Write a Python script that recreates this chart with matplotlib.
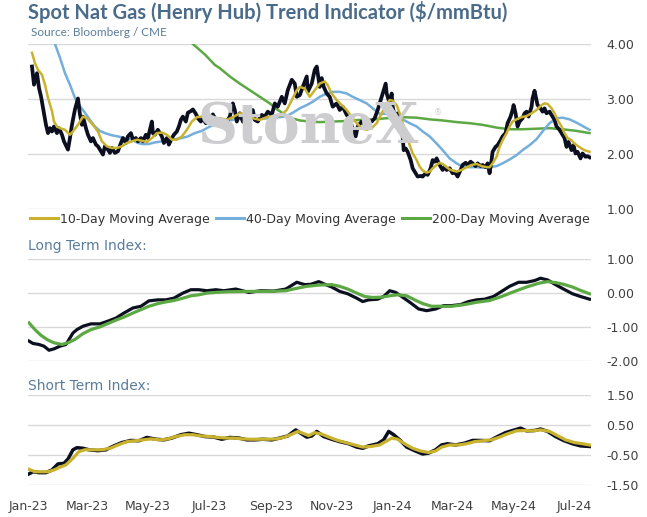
import numpy as np
import matplotlib
matplotlib.use("Agg")
import matplotlib.pyplot as plt
import matplotlib.dates as mdates
from matplotlib.lines import Line2D

# ---------------- data (x = days since 2023-01-01) ----------------
spot_days = [4, 6, 9, 11, 13, 15, 18, 20, 22, 24, 26, 29, 31, 34, 36, 40, 42, 44, 47, 50,
             52, 54, 55, 58, 60, 63, 65, 68, 70, 73, 75, 77, 80, 82, 84, 87, 90, 93, 95, 98,
             100, 103, 105, 108, 110, 113, 115, 118, 120, 122, 124, 125, 127, 130, 132, 134, 136, 139, 141, 144,
             146, 149, 151, 153, 155, 158, 160, 163, 165, 168, 170, 173, 175, 178, 180, 183, 185, 189, 192, 195,
             199, 202, 205, 207, 209, 212, 215, 219, 222, 225, 227, 230, 234, 237, 240, 244, 247, 250, 254, 257,
             260, 264, 267, 269, 272, 275, 279, 280, 284, 287, 289, 290, 292, 294, 296, 299, 302, 305, 309, 312,
             315, 319, 322, 325, 328, 330, 334, 337, 340, 344, 347, 350, 354, 356, 358, 359, 362, 364, 365, 368,
             370, 373, 375, 376, 378, 380, 383, 385, 388, 390, 393, 395, 398, 400, 403, 405, 407, 409, 412, 415,
             417, 419, 422, 425, 427, 430, 433, 435, 438, 440, 443, 445, 448, 450, 453, 455, 458, 460, 462, 464,
             465, 468, 470, 473, 475, 478, 480, 483, 485, 486, 488, 490, 492, 495, 497, 499, 501, 504, 505, 507,
             509, 510, 513, 515, 517, 519, 522, 525, 527, 529, 532, 535, 537, 539, 541, 544, 546, 548, 550, 553,
             555, 558, 560, 562]
spot_vals = [3.59, 3.26, 3.47, 3.20, 3.05, 2.84, 2.53, 2.38, 2.47, 2.41, 2.50, 2.38, 2.47, 2.35, 2.23, 2.08, 2.29, 2.53, 2.81, 3.01,
             2.72, 2.53, 2.68, 2.47, 2.35, 2.23, 2.29, 2.17, 2.14, 2.05, 1.99, 2.14, 2.08, 2.02, 2.11, 2.02, 2.05, 2.20, 2.29, 2.20,
             2.32, 2.38, 2.26, 2.29, 2.23, 2.29, 2.23, 2.35, 2.29, 2.44, 2.59, 2.38, 2.35, 2.44, 2.38, 2.32, 2.20, 2.29, 2.17, 2.29,
             2.35, 2.41, 2.50, 2.62, 2.68, 2.59, 2.75, 2.78, 2.81, 2.73, 2.65, 2.59, 2.65, 2.56, 2.65, 2.59, 2.72, 2.59, 2.53, 2.62,
             2.59, 2.68, 2.92, 2.80, 2.59, 2.74, 2.59, 2.56, 2.68, 2.80, 2.62, 2.59, 2.71, 2.68, 2.77, 2.71, 2.92, 2.86, 3.04, 2.92,
             3.16, 3.35, 3.28, 3.04, 3.07, 3.22, 3.41, 3.13, 3.28, 3.53, 3.59, 3.47, 3.22, 3.38, 3.22, 3.10, 3.04, 2.86, 2.92, 2.80,
             2.86, 2.71, 2.65, 2.44, 2.32, 2.50, 2.59, 2.53, 2.62, 2.59, 2.65, 2.80, 3.04, 3.16, 3.28, 3.10, 2.92, 3.10, 2.86, 2.62,
             2.74, 2.44, 2.32, 2.07, 2.10, 2.04, 1.89, 1.74, 1.65, 1.59, 1.60, 1.59, 1.65, 1.62, 1.74, 1.89, 1.86, 1.92, 1.80, 1.71,
             1.77, 1.71, 1.74, 1.65, 1.68, 1.59, 1.71, 1.80, 1.84, 1.80, 1.86, 1.83, 1.78, 1.83, 1.78, 1.80, 1.76, 1.83, 1.65, 1.89,
             2.04, 2.13, 2.16, 2.25, 2.32, 2.38, 2.56, 2.68, 2.80, 2.89, 2.74, 2.50, 2.59, 2.65, 2.74, 2.77, 2.68, 2.86, 3.01, 3.15,
             2.98, 2.89, 2.83, 2.77, 2.83, 2.74, 2.77, 2.68, 2.62, 2.50, 2.44, 2.35, 2.29, 2.13, 2.22, 2.07, 2.16, 2.01, 2.04, 1.92,
             2.01, 1.95, 1.96, 1.94]

ma10_days = [4, 7, 10, 14, 17, 20, 24, 26, 29, 32, 37, 42, 45, 50, 55, 59, 62, 65, 70, 74,
             79, 84, 89, 94, 99, 104, 109, 114, 119, 124, 129, 134, 139, 144, 149, 154, 159, 164, 169, 174,
             179, 184, 192, 199, 205, 212, 219, 225, 232, 239, 245, 252, 259, 264, 269, 272, 277, 282, 287, 292,
             297, 300, 304, 309, 314, 319, 324, 329, 334, 339, 344, 349, 354, 359, 362, 365, 369, 372, 375, 379,
             382, 385, 389, 392, 395, 399, 402, 405, 409, 412, 415, 419, 422, 425, 429, 434, 439, 444, 449, 454,
             459, 462, 465, 469, 472, 475, 479, 482, 485, 489, 494, 499, 504, 509, 514, 517, 520, 524, 527, 530,
             534, 537, 540, 544, 547, 550, 554, 557, 562]
ma10_vals = [3.84, 3.65, 3.53, 3.44, 3.26, 3.02, 2.78, 2.59, 2.50, 2.47, 2.44, 2.35, 2.41, 2.53, 2.68, 2.65, 2.59, 2.53, 2.41, 2.23,
             2.14, 2.11, 2.11, 2.14, 2.20, 2.23, 2.26, 2.24, 2.22, 2.29, 2.38, 2.39, 2.35, 2.26, 2.26, 2.32, 2.44, 2.59, 2.67, 2.68,
             2.68, 2.64, 2.65, 2.62, 2.67, 2.74, 2.72, 2.65, 2.62, 2.67, 2.69, 2.69, 2.80, 2.98, 3.16, 3.22, 3.19, 3.04, 3.16, 3.28,
             3.32, 3.25, 3.10, 2.98, 2.89, 2.80, 2.67, 2.56, 2.47, 2.44, 2.47, 2.56, 2.74, 2.92, 2.98, 2.97, 2.89, 2.74, 2.56, 2.35,
             2.16, 2.01, 1.89, 1.77, 1.70, 1.66, 1.68, 1.74, 1.80, 1.84, 1.82, 1.76, 1.72, 1.70, 1.68, 1.71, 1.76, 1.80, 1.82, 1.78,
             1.76, 1.76, 1.83, 1.95, 2.13, 2.25, 2.38, 2.50, 2.59, 2.63, 2.67, 2.69, 2.74, 2.80, 2.89, 2.92, 2.91, 2.83, 2.74, 2.62,
             2.50, 2.38, 2.29, 2.25, 2.19, 2.15, 2.10, 2.07, 2.04]

ma40_days = [3, 10, 17, 24, 27, 32, 37, 42, 47, 52, 57, 62, 67, 72, 77, 84, 90, 97, 104, 110,
             115, 120, 127, 134, 140, 147, 154, 160, 167, 174, 182, 192, 202, 212, 222, 232, 242, 252, 259, 265,
             272, 279, 285, 292, 299, 305, 312, 319, 325, 332, 339, 345, 352, 359, 365, 369, 375, 382, 389, 395,
             402, 409, 415, 422, 429, 435, 442, 449, 455, 462, 469, 475, 482, 489, 495, 502, 509, 515, 522, 529,
             535, 542, 549, 555, 562]
ma40_vals = [5.20, 4.80, 4.45, 4.15, 4.00, 3.75, 3.47, 3.26, 3.02, 2.87, 2.75, 2.62, 2.50, 2.42, 2.38, 2.34, 2.32, 2.29, 2.26, 2.20,
             2.18, 2.18, 2.21, 2.23, 2.26, 2.27, 2.29, 2.32, 2.38, 2.42, 2.50, 2.56, 2.61, 2.65, 2.64, 2.64, 2.65, 2.67, 2.69, 2.75,
             2.83, 2.89, 2.95, 3.04, 3.10, 3.13, 3.13, 3.10, 3.04, 2.98, 2.92, 2.83, 2.73, 2.73, 2.72, 2.69, 2.63, 2.56, 2.50, 2.41,
             2.32, 2.19, 2.07, 1.92, 1.83, 1.77, 1.76, 1.76, 1.75, 1.76, 1.78, 1.83, 1.90, 1.98, 2.07, 2.16, 2.27, 2.41, 2.56, 2.65,
             2.66, 2.63, 2.57, 2.51, 2.44]

ma200_days = [3, 40, 80, 120, 150, 165, 177, 187, 192, 202, 212, 222, 232, 242, 250, 257, 264, 272, 282, 292,
              305, 319, 332, 345, 359, 375, 389, 402, 415, 429, 442, 455, 469, 482, 495, 509, 522, 535, 549, 562]
ma200_vals = [6.20, 5.60, 5.00, 4.55, 4.25, 4.00, 3.81, 3.62, 3.56, 3.41, 3.28, 3.16, 3.04, 2.92, 2.80, 2.72, 2.65, 2.61, 2.59, 2.58,
              2.59, 2.60, 2.62, 2.63, 2.65, 2.67, 2.66, 2.63, 2.61, 2.58, 2.56, 2.53, 2.48, 2.45, 2.45, 2.46, 2.47, 2.45, 2.42, 2.38]

lt_days = [1, 5, 11, 16, 21, 26, 32, 38, 45, 49, 55, 63, 72, 80, 88, 96, 105, 113, 121, 130,
           138, 146, 155, 163, 171, 179, 188, 196, 208, 221, 233, 246, 258, 269, 277, 283, 291, 298, 304, 312,
           320, 329, 335, 341, 350, 356, 362, 368, 374, 383, 391, 399, 408, 416, 424, 433, 441, 449, 457, 466,
           474, 482, 491, 499, 507, 513, 520, 528, 536, 545, 553, 562]
lt_vals = [-1.42, -1.49, -1.52, -1.57, -1.69, -1.65, -1.57, -1.52, -1.18, -1.08, -0.98, -0.91, -0.91, -0.83, -0.74, -0.59, -0.44, -0.39, -0.23, -0.20,
           -0.20, -0.15, 0.00, 0.10, 0.10, 0.07, 0.10, 0.07, 0.12, 0.02, 0.07, 0.06, 0.12, 0.32, 0.25, 0.26, 0.34, 0.25, 0.18, 0.05,
           -0.02, -0.15, -0.25, -0.20, -0.18, -0.10, 0.07, 0.02, -0.10, -0.29, -0.47, -0.52, -0.47, -0.37, -0.37, -0.34, -0.25, -0.20, -0.18, -0.10,
           0.05, 0.20, 0.32, 0.32, 0.37, 0.44, 0.39, 0.25, 0.12, -0.02, -0.10, -0.18]

lt_sig_days = [1, 7, 13, 20, 26, 34, 40, 47, 55, 63, 72, 80, 88, 96, 105, 113, 121, 130, 138, 146,
               155, 163, 171, 179, 188, 200, 221, 242, 258, 267, 279, 292, 304, 312, 320, 329, 337, 345, 354, 362,
               370, 379, 387, 395, 404, 412, 424, 437, 449, 462, 474, 487, 499, 511, 520, 528, 536, 545, 553, 562]
lt_sig_vals = [-0.88, -1.08, -1.25, -1.39, -1.47, -1.52, -1.47, -1.37, -1.20, -1.08, -1.00, -0.90, -0.80, -0.71, -0.59, -0.49, -0.39, -0.31, -0.26, -0.22,
               -0.15, -0.08, -0.05, 0.00, 0.02, 0.04, 0.05, 0.05, 0.07, 0.13, 0.20, 0.24, 0.25, 0.20, 0.12, 0.00, -0.10, -0.13, -0.12, -0.08,
               -0.05, -0.08, -0.20, -0.31, -0.39, -0.39, -0.39, -0.34, -0.27, -0.22, -0.10, 0.05, 0.18, 0.29, 0.34, 0.31, 0.26, 0.18, 0.08, -0.02]

st_days = [1, 5, 11, 18, 24, 30, 36, 40, 45, 49, 55, 61, 70, 78, 86, 94, 103, 111, 119, 128,
           136, 144, 153, 161, 169, 177, 186, 194, 202, 211, 219, 227, 235, 244, 252, 260, 268, 273, 279, 284,
           289, 296, 304, 312, 321, 329, 335, 341, 350, 356, 361, 366, 372, 379, 387, 395, 401, 408, 414, 420,
           428, 437, 445, 453, 462, 470, 478, 487, 493, 499, 507, 513, 520, 528, 536, 545, 553, 562]
st_vals = [-1.13, -1.06, -1.09, -1.09, -1.00, -0.80, -0.78, -0.64, -0.33, -0.26, -0.28, -0.33, -0.36, -0.33, -0.20, -0.09, -0.02, -0.03, 0.08, 0.02,
           0.00, 0.06, 0.17, 0.22, 0.17, 0.11, 0.09, 0.02, 0.08, 0.06, 0.00, 0.00, 0.02, 0.00, 0.06, 0.13, 0.33, 0.22, 0.09, 0.13,
           0.28, 0.11, 0.02, -0.06, -0.13, -0.24, -0.28, -0.20, -0.13, 0.00, 0.28, 0.17, 0.00, -0.24, -0.36, -0.47, -0.44, -0.33, -0.17, -0.13,
           -0.17, -0.11, -0.02, -0.02, -0.03, 0.11, 0.24, 0.33, 0.39, 0.30, 0.31, 0.36, 0.28, 0.11, -0.02, -0.13, -0.20, -0.22]

st_sig_days = [1, 7, 13, 20, 26, 32, 38, 45, 51, 57, 65, 74, 82, 90, 99, 107, 115, 123, 132, 140,
               148, 157, 165, 173, 182, 190, 198, 206, 215, 223, 231, 240, 248, 256, 265, 270, 275, 281, 287, 294,
               302, 310, 318, 327, 335, 343, 352, 360, 364, 370, 377, 385, 393, 401, 408, 414, 422, 431, 439, 447,
               455, 464, 472, 480, 489, 497, 505, 513, 522, 530, 538, 547, 555, 562]
st_sig_vals = [-0.98, -1.06, -1.06, -1.06, -1.00, -0.91, -0.83, -0.61, -0.39, -0.33, -0.33, -0.33, -0.28, -0.17, -0.06, -0.03, 0.00, 0.03, 0.00, 0.03,
               0.11, 0.17, 0.17, 0.13, 0.11, 0.08, 0.06, 0.06, 0.03, 0.02, 0.02, 0.02, 0.03, 0.08, 0.20, 0.28, 0.22, 0.14, 0.24, 0.19,
               0.08, -0.02, -0.09, -0.17, -0.24, -0.22, -0.17, -0.02, 0.06, 0.02, -0.13, -0.28, -0.37, -0.42, -0.37, -0.24, -0.17, -0.17, -0.13, -0.06,
               -0.03, 0.00, 0.09, 0.20, 0.30, 0.31, 0.30, 0.33, 0.28, 0.14, 0.00, -0.09, -0.13, -0.17]

month_ticks = ["2023-01-01", "2023-03-01", "2023-05-01", "2023-07-01", "2023-09-01", "2023-11-01",
               "2024-01-01", "2024-03-01", "2024-05-01", "2024-07-01"]

# ---------------- styling ----------------
BLACK = "#0B0F1F"
YELLOW = "#C9B22E"
BLUE = "#74AEDB"
GREEN = "#5CA843"
TITLE_C = "#4A6C8A"
SUB_C = "#5B7D9A"
TICK_C = "#404040"
GRID_C = "#D9D9D9"

base = np.datetime64("2023-01-01")
def to_dates(d):
    return base + np.array(d).astype("timedelta64[D]")

W, H = 647, 517
fig = plt.figure(figsize=(W / 100, H / 100), dpi=100)
fig.patch.set_facecolor("white")

left, right = 28, 591
def make_ax(ytop, ybot):
    return fig.add_axes([left / W, (H - ybot) / H, (right - left) / W, (ybot - ytop) / H])

ax1 = make_ax(44, 209)
ax2 = make_ax(259.3, 360.7)
ax3 = make_ax(394.7, 485)

xmin = base
xmax = np.datetime64("2024-07-17T12:00")
for ax, (ylo, yhi), ticks in [(ax1, (1, 4), [1, 2, 3, 4]),
                               (ax2, (-2, 1), [-2, -1, 0, 1]),
                               (ax3, (-1.5, 1.5), [-1.5, -0.5, 0.5, 1.5])]:
    ax.set_xlim(xmin, xmax)
    ax.set_ylim(ylo, yhi)
    ax.set_yticks(ticks)
    ax.yaxis.tick_right()
    ax.yaxis.set_major_formatter(matplotlib.ticker.FormatStrFormatter("%.2f"))
    ax.tick_params(axis="y", length=0, pad=11, labelsize=9, labelcolor=TICK_C)
    ax.tick_params(axis="x", length=0)
    for s in ax.spines.values():
        s.set_visible(False)
    ax.grid(axis="y", color=GRID_C, lw=1)
    ax.set_axisbelow(True)
    ax.set_facecolor("none")
    ax.set_xticks(np.array(month_ticks, dtype="datetime64[D]"))
    if ax is not ax3:
        ax.set_xticklabels([])

ax3.xaxis.set_major_formatter(mdates.DateFormatter("%b-%y"))
ax3.tick_params(axis="x", labelsize=9, labelcolor=TICK_C, pad=11)

# watermark
fig.text(308 / W, 1 - 143 / H, "StoneX", fontsize=40, family="DejaVu Serif", weight="bold",
         color="#CDCDD0", ha="center", va="baseline", zorder=0)
fig.text(438 / W, 1 - 113 / H, "®", fontsize=6, color="#D0D0D0", ha="center", va="center", zorder=0)

# top panel lines
ax1.plot(to_dates(ma200_days), ma200_vals, color=GREEN, lw=1.8, zorder=2)
ax1.plot(to_dates(ma40_days), ma40_vals, color=BLUE, lw=1.8, zorder=3)
ax1.plot(to_dates(spot_days), spot_vals, color=BLACK, lw=2.7, zorder=4, solid_joinstyle="round")
ax1.plot(to_dates(ma10_days), ma10_vals, color=YELLOW, lw=1.8, zorder=5)

# long-term panel
ax2.plot(to_dates(lt_days), lt_vals, color=BLACK, lw=2.3, zorder=3)
ax2.plot(to_dates(lt_sig_days), lt_sig_vals, color=GREEN, lw=2.3, zorder=4)

# short-term panel
ax3.plot(to_dates(st_days), st_vals, color=BLACK, lw=2.5, zorder=3)
ax3.plot(to_dates(st_sig_days), st_sig_vals, color=YELLOW, lw=2.3, zorder=4)

# titles
fig.text(28 / W, 1 - 12 / H, "Spot Nat Gas (Henry Hub) Trend Indicator ($/mmBtu)", fontsize=14.5,
         family="Lato", weight="bold", color=TITLE_C, ha="left", va="center")
fig.text(31 / W, 1 - 32 / H, "Source: Bloomberg / CME", fontsize=8.5, family="Lato",
         color=SUB_C, ha="left", va="center")
fig.text(28 / W, 1 - 246 / H, "Long Term Index:", fontsize=10, color=SUB_C, ha="left", va="center")
fig.text(28 / W, 1 - 386 / H, "Short Term Index:", fontsize=10, color=SUB_C, ha="left", va="center")

# legend
handles = [Line2D([], [], color=YELLOW, lw=2.2), Line2D([], [], color=BLUE, lw=2.2),
           Line2D([], [], color=GREEN, lw=2.2)]
labels = ["10-Day Moving Average", "40-Day Moving Average", "200-Day Moving Average"]
fig.legend(handles, labels, loc="center", bbox_to_anchor=(310 / W, 1 - 219 / H), ncol=3,
           frameon=False, fontsize=9, handlelength=2.2, handletextpad=0.2, columnspacing=0.5,
           labelcolor="#333333", borderaxespad=0, borderpad=0)

fig.savefig("out.png", dpi=100, facecolor="white")
